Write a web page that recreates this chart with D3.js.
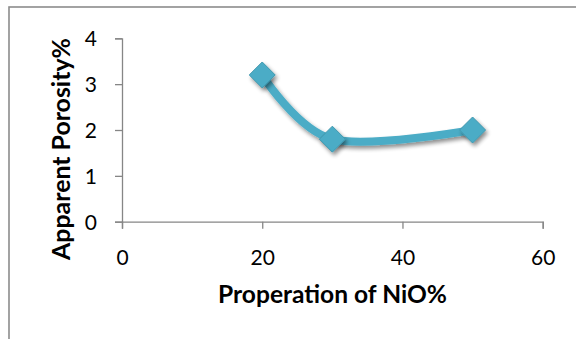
<!DOCTYPE html>
<html>
<head>
<meta charset="utf-8">
<script src="https://cdn.jsdelivr.net/npm/d3@7"></script>
<style>
  html, body { margin: 0; padding: 0; background: #fff; }
  svg { display: block; }
</style>
</head>
<body>
<svg id="chart" width="576" height="339"></svg>
<script>
// NiO proportion (%) vs apparent porosity (%)
const nioPercent = [20, 30, 50];
const porosity = [3.2, 1.8, 2.0];
const xTicks = [0, 20, 40, 60];
const yTicks = [0, 1, 2, 3, 4];
const xTitle = "Properation of NiO%";
const yTitle = "Apparent Porosity%";

const W = 576, H = 339;
const svg = d3.select("#chart");
const FONT = "Lato, 'Open Sans', sans-serif";
const COLOR = "#4BACC6";

// drop shadow for markers and line
const defs = svg.append("defs");
const f = defs.append("filter").attr("id", "shadow")
  .attr("x", "-50%").attr("y", "-50%").attr("width", "200%").attr("height", "200%");
f.append("feGaussianBlur").attr("in", "SourceAlpha").attr("stdDeviation", 2).attr("result", "b");
f.append("feOffset").attr("in", "b").attr("dx", 1.5).attr("dy", 2.5).attr("result", "o");
f.append("feComponentTransfer").attr("in", "o").attr("result", "s")
  .append("feFuncA").attr("type", "linear").attr("slope", 0.45);
const m = f.append("feMerge");
m.append("feMergeNode").attr("in", "s");
m.append("feMergeNode").attr("in", "SourceGraphic");

// outer chart frame (extends past the bottom/right of the view)
svg.append("rect")
  .attr("x", 9).attr("y", 7).attr("width", W + 20).attr("height", H + 20)
  .attr("fill", "none").attr("stroke", "#8c8c8c").attr("stroke-width", 1.6);

const x = d3.scaleLinear().domain([0, 60]).range([122, 542.7]);
const y = d3.scaleLinear().domain([0, 4]).range([221.7, 38.3]);

const xAxis = svg.append("g").attr("transform", `translate(0,${y(0)})`)
  .call(d3.axisBottom(x).tickValues(xTicks).tickFormat(d3.format("d"))
    .tickSize(7).tickPadding(21));
const yAxis = svg.append("g").attr("transform", `translate(${x(0)},0)`)
  .call(d3.axisLeft(y).tickValues(yTicks).tickFormat(d3.format("d"))
    .tickSize(7).tickPadding(18));

[xAxis, yAxis].forEach(g => {
  g.select(".domain").attr("stroke", "#868686").attr("stroke-width", 1.3);
  g.selectAll(".tick line").attr("stroke", "#868686").attr("stroke-width", 1.3);
  g.selectAll(".tick text")
    .attr("font-family", FONT).attr("font-size", 21).attr("fill", "#000");
});
xAxis.selectAll(".tick text").attr("dy", "0.71em");
yAxis.selectAll(".tick text").attr("dy", "0.36em");

// smoothed series line
const pts = nioPercent.map((v, i) => [v, porosity[i]]);
const line = d3.line()
  .x(d => x(d[0])).y(d => y(d[1]))
  .curve(d3.curveCardinal.tension(0));

svg.append("path")
  .datum(pts)
  .attr("d", line)
  .attr("fill", "none")
  .attr("stroke", COLOR)
  .attr("stroke-width", 8)
  .attr("stroke-linecap", "round")
  .attr("filter", "url(#shadow)");

// diamond markers
const r = 13;
svg.selectAll("path.marker")
  .data(pts)
  .join("path")
  .attr("class", "marker")
  .attr("d", d => {
    const cx = x(d[0]), cy = y(d[1]);
    return `M${cx},${cy - r}L${cx + r},${cy}L${cx},${cy + r}L${cx - r},${cy}Z`;
  })
  .attr("fill", COLOR)
  .attr("stroke", "#3f97ae")
  .attr("stroke-width", 1)
  .attr("stroke-linejoin", "round")
  .attr("filter", "url(#shadow)");

// axis titles, sized to their target widths
function fit(sel, target) {
  let fs = 20;
  sel.attr("font-size", fs);
  const len = sel.node().getComputedTextLength();
  sel.attr("font-size", fs * target / len);
}

const xt = svg.append("text")
  .attr("x", 332.5).attr("y", 303)
  .attr("text-anchor", "middle")
  .attr("font-family", FONT).attr("font-weight", "bold").attr("fill", "#000")
  .text(xTitle);
fit(xt, 229);

const yt = svg.append("text")
  .attr("transform", "translate(70,149) rotate(-90)")
  .attr("text-anchor", "middle")
  .attr("font-family", FONT).attr("font-weight", "bold").attr("fill", "#000")
  .text(yTitle);
fit(yt, 222);
</script>
</body>
</html>
